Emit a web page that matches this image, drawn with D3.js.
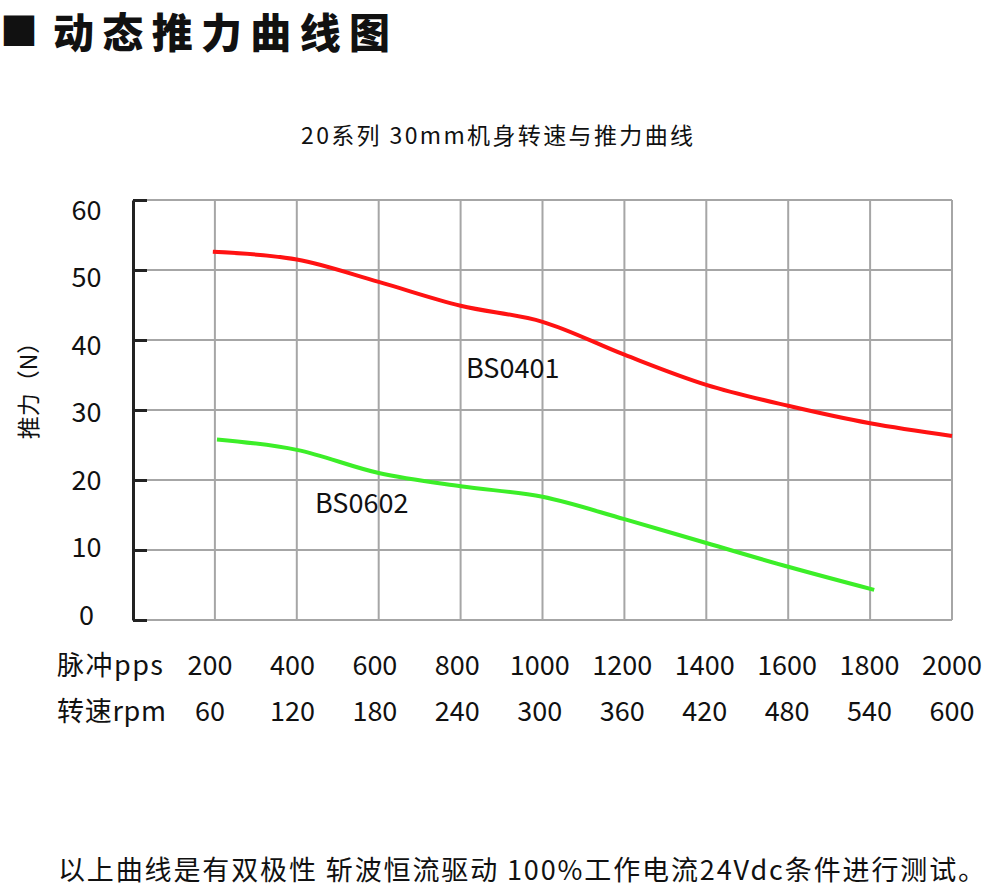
<!DOCTYPE html>
<html>
<head>
<meta charset="utf-8">
<script src="https://cdn.jsdelivr.net/npm/d3@7"></script>
<style>
  body { margin: 0; background: #fff; }
  svg { display: block; font-family: "Noto Sans CJK SC", "Noto Sans", sans-serif; }
</style>
</head>
<body>
<svg id="chart" width="996" height="888"></svg>
<script>
// data
const ppsTicks = [200, 400, 600, 800, 1000, 1200, 1400, 1600, 1800, 2000];
const rpmTicks = [60, 120, 180, 240, 300, 360, 420, 480, 540, 600];
const forceTicks = [0, 10, 20, 30, 40, 50, 60];

const bs0401Pps = [195, 400, 600, 800, 1000, 1200, 1400, 1600, 1800, 2000];
const bs0401Force = [52.6, 51.5, 48.3, 44.9, 42.6, 37.9, 33.6, 30.6, 28.1, 26.3];

const bs0602Pps = [205, 400, 600, 800, 1000, 1200, 1400, 1600, 1810];
const bs0602Force = [25.8, 24.3, 21.0, 19.1, 17.6, 14.4, 11.0, 7.6, 4.3];

const svg = d3.select('#chart');

const x = d3.scaleLinear().domain([0, 2000]).range([133, 952]);
const y = d3.scaleLinear().domain([0, 60]).range([620, 200]);
// tick text sits a little off the grid in the original
const xLab = d3.scaleLinear().domain([200, 2000]).range([210, 952]);
const yLab = d3.scaleLinear().domain([0, 60]).range([615, 210]);

// heading
svg.append('text')
  .attr('x', 0).attr('y', 45)
  .attr('font-size', 38).attr('font-weight', 900).attr('fill', '#111')
  .text('■');
svg.append('text')
  .attr('x', 53).attr('y', 48)
  .attr('font-size', 41).attr('font-weight', 900).attr('fill', '#111')
  .attr('textLength', 337).attr('lengthAdjust', 'spacing')
  .text('动态推力曲线图');

svg.append('text')
  .attr('x', 301).attr('y', 144)
  .attr('font-size', 23).attr('fill', '#111')
  .attr('textLength', 392).attr('lengthAdjust', 'spacing')
  .text('20系列 30mm机身转速与推力曲线');

// grid
const grid = svg.append('g').attr('stroke', '#a6a6a6').attr('stroke-width', 2);
grid.selectAll('line.v')
  .data(ppsTicks)
  .join('line')
    .attr('class', 'v')
    .attr('x1', d => x(d)).attr('x2', d => x(d))
    .attr('y1', y(60)).attr('y2', y(0));
grid.selectAll('line.h')
  .data(forceTicks)
  .join('line')
    .attr('class', 'h')
    .attr('x1', x(0)).attr('x2', x(2000))
    .attr('y1', d => y(d)).attr('y2', d => y(d));

// y axis, ticks point inward
const yAxis = svg.append('g')
  .attr('transform', `translate(${x(0)},0)`)
  .call(d3.axisRight(y).tickValues(forceTicks).tickSize(14).tickSizeOuter(0).tickFormat(''));
yAxis.select('.domain').attr('stroke', '#222').attr('stroke-width', 3);
yAxis.selectAll('.tick line').attr('stroke', '#222').attr('stroke-width', 3);

svg.append('g')
  .selectAll('text')
  .data(forceTicks)
  .join('text')
    .attr('x', 86.5)
    .attr('y', d => yLab(d))
    .attr('dy', '0.36em')
    .attr('text-anchor', 'middle')
    .attr('font-size', 27).attr('fill', '#111')
    .text(d => d);

svg.append('text')
  .attr('transform', 'translate(37,385) rotate(-90)')
  .attr('text-anchor', 'middle')
  .attr('font-size', 23).attr('fill', '#111')
  .text('推力（N）');

// two label rows under the plot
svg.append('g')
  .selectAll('text')
  .data(ppsTicks)
  .join('text')
    .attr('x', d => xLab(d)).attr('y', 675)
    .attr('text-anchor', 'middle')
    .attr('font-size', 27).attr('fill', '#111')
    .text(d => d);
svg.append('g')
  .selectAll('text')
  .data(rpmTicks)
  .join('text')
    .attr('x', (d, i) => xLab(ppsTicks[i])).attr('y', 721)
    .attr('text-anchor', 'middle')
    .attr('font-size', 27).attr('fill', '#111')
    .text(d => d);
svg.append('text')
  .attr('x', 57).attr('y', 675)
  .attr('font-size', 27).attr('fill', '#111')
  .attr('textLength', 106).attr('lengthAdjust', 'spacing')
  .text('脉冲pps');
svg.append('text')
  .attr('x', 57).attr('y', 721)
  .attr('font-size', 27).attr('fill', '#111')
  .attr('textLength', 109).attr('lengthAdjust', 'spacing')
  .text('转速rpm');

// curves
const line = d3.line()
  .x(d => x(d[0]))
  .y(d => y(d[1]))
  .curve(d3.curveCatmullRom.alpha(0.5));

svg.append('path')
  .datum(d3.zip(bs0401Pps, bs0401Force))
  .attr('d', line)
  .attr('fill', 'none').attr('stroke', '#ff1212').attr('stroke-width', 4);
svg.append('path')
  .datum(d3.zip(bs0602Pps, bs0602Force))
  .attr('d', line)
  .attr('fill', 'none').attr('stroke', '#3cee28').attr('stroke-width', 4);

svg.append('text')
  .attr('x', 466).attr('y', 378)
  .attr('font-size', 27).attr('fill', '#111')
  .text('BS0401');
svg.append('text')
  .attr('x', 315).attr('y', 513)
  .attr('font-size', 27).attr('fill', '#111')
  .text('BS0602');

svg.append('text')
  .attr('x', 58).attr('y', 880)
  .attr('font-size', 27).attr('fill', '#111')
  .attr('textLength', 927).attr('lengthAdjust', 'spacing')
  .text('以上曲线是有双极性 斩波恒流驱动 100%工作电流24Vdc条件进行测试。');
</script>
</body>
</html>
